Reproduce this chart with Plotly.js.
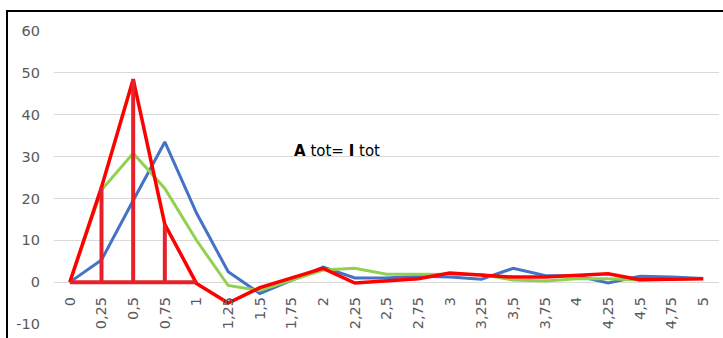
<!DOCTYPE html>
<html>
<head>
<meta charset="utf-8">
<script src="https://cdn.plot.ly/plotly-3.0.1.min.js"></script>
<style>
  html, body { margin: 0; padding: 0; background: #fff; }
  #wrap { position: relative; width: 723px; height: 338px; overflow: hidden; }
  #chart { width: 723px; height: 338px; }
  #frame { position: absolute; left: 6px; top: 10px; width: 800px; height: 400px;
           border-left: 2px solid #000; border-top: 2px solid #000; pointer-events: none; }
</style>
</head>
<body>
<div id="wrap"><div id="chart"></div><div id="frame"></div></div>
<script>
const categories = ["0","0,25","0,5","0,75","1","1,25","1,5","1,75","2","2,25","2,5","2,75","3","3,25","3,5","3,75","4","4,25","4,5","4,75","5"];
const blueValues  = [0, 5.3, 19.5, 33.5, 16.5, 2.5, -2.7, 0.5, 3.6, 1.0, 1.0, 1.4, 1.2, 0.7, 3.3, 1.6, 1.5, -0.2, 1.4, 1.2, 0.9];
const greenValues = [0, 22, 30.8, 22.4, 10, -0.8, -2, 0.5, 2.9, 3.3, 1.9, 1.9, 1.8, 1.8, 0.5, 0.3, 0.8, 0.8, 0.5, 0.7, 0.9];
const redValues   = [0, 22.7, 48.5, 13.8, -0.3, -5, -1.3, 1, 3.3, -0.2, 0.2, 0.8, 2.2, 1.6, 1.2, 1.2, 1.5, 2.0, 0.6, 0.6, 0.8];
const barIndices  = [1, 2, 3];
const baseFrom = 0, baseTo = 4;
const yTicks = [-10, 0, 10, 20, 30, 40, 50, 60];
const annotationText = "<b>A</b> tot= <b>I</b> tot";

// vertical bars from 0 to the red value, plus baseline segment
const barX = [], barY = [];
barIndices.forEach(i => { barX.push(categories[i], categories[i], null); barY.push(0, redValues[i], null); });
barX.push(categories[baseFrom], categories[baseTo]); barY.push(0, 0);

const traces = [
  {x: categories, y: blueValues, mode: 'lines', line: {color: '#4472C4', width: 3}, hoverinfo: 'skip'},
  {x: categories, y: greenValues, mode: 'lines', line: {color: '#92D050', width: 3}, hoverinfo: 'skip'},
  {x: categories, y: redValues, mode: 'lines', line: {color: '#FF0000', width: 3.5}, hoverinfo: 'skip'},
  {x: barX, y: barY, mode: 'lines', line: {color: '#E8202A', width: 4}, connectgaps: false, hoverinfo: 'skip'}
];

const font = {family: 'DejaVu Sans, sans-serif', size: 14.5, color: '#595959'};
const layout = {
  width: 723, height: 338,
  margin: {l: 54, r: 4, t: 31, b: 14, pad: 0},
  paper_bgcolor: '#fff', plot_bgcolor: '#fff',
  showlegend: false,
  font: font,
  xaxis: {
    type: 'category', range: [-0.5, 20.5], anchor: 'free', position: (0 - (-10)) / 70,
    showgrid: false, zeroline: false, showline: false, ticks: '',
    tickangle: -90, tickfont: font, ticklabelstandoff: 11, fixedrange: true
  },
  yaxis: {
    range: [-10, 60], tickvals: yTicks, ticktext: yTicks.map(String),
    showgrid: true, gridcolor: '#D9D9D9', gridwidth: 1, zeroline: false, showline: false,
    ticks: '', tickfont: font, ticklabelstandoff: 13, fixedrange: true
  },
  annotations: [{
    xref: 'paper', yref: 'y', x: 0.358, y: 31.3, text: annotationText, showarrow: false,
    xanchor: 'left', yanchor: 'middle', font: {family: 'DejaVu Sans, sans-serif', size: 15, color: '#000'}
  }]
};
Plotly.newPlot('chart', traces, layout, {displayModeBar: false, staticPlot: true});
</script>
</body>
</html>
